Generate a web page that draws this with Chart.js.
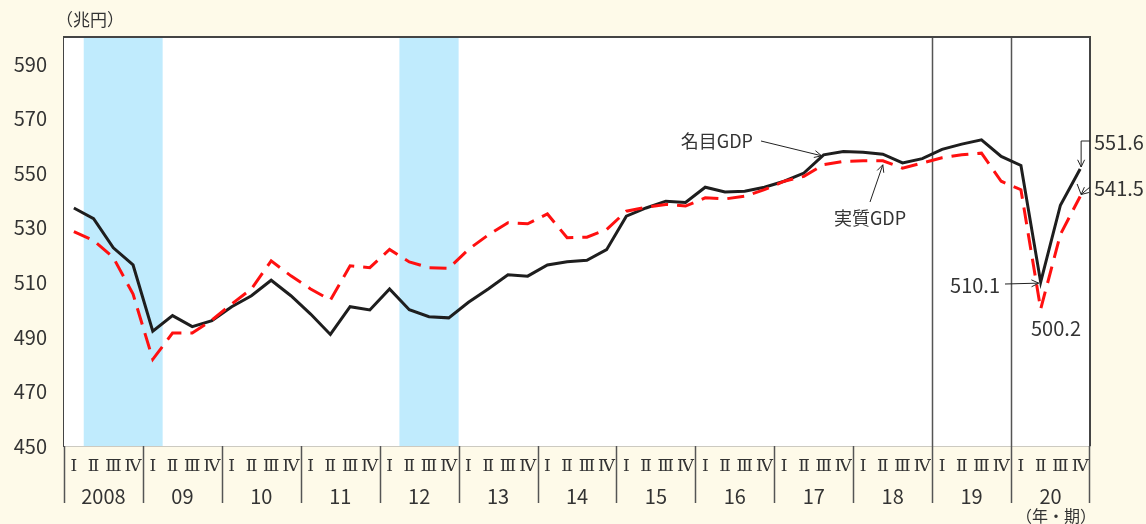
<!DOCTYPE html>
<html>
<head>
<meta charset="utf-8">
<script src="https://cdn.jsdelivr.net/npm/chart.js@4"></script>
<style>
  html, body { margin: 0; padding: 0; background: #fefae9; }
  #wrap { width: 1146px; height: 524px; }
</style>
</head>
<body>
<div id="wrap"><canvas id="c" width="1146" height="524"></canvas></div>
<script>
// quarters 2008 I .. 2020 IV
const years = ['2008', '09', '10', '11', '12', '13', '14', '15', '16', '17', '18', '19', '20'];
const quarterNames = ['Ⅰ', 'Ⅱ', 'Ⅲ', 'Ⅳ'];
const quarters = years.flatMap(() => quarterNames);
const yTicks = [450, 470, 490, 510, 530, 550, 570, 590];

// 名目GDP (兆円)
const nominal = [
  537.3, 533.4, 522.7, 516.4, 492.1, 497.8, 493.8, 496.0,
  501.1, 505.1, 510.8, 505.1, 498.4, 490.9, 501.1, 499.9,
  507.6, 500.0, 497.4, 497.0, 502.7, 507.6, 512.8, 512.3,
  516.4, 517.6, 518.1, 522.0, 534.3, 537.3, 539.8, 539.3,
  544.9, 543.2, 543.4, 544.9, 547.1, 550.1, 556.8, 558.0,
  557.7, 557.0, 553.8, 555.4, 558.8, 560.7, 562.3, 556.2,
  552.9, 510.1, 538.3, 551.6
];
// 実質GDP (兆円)
const real = [
  528.6, 525.4, 519.1, 505.7, 481.8, 491.4, 491.4, 496.2,
  502.1, 507.6, 517.9, 512.4, 507.6, 503.5, 516.1, 515.4,
  522.1, 517.5, 515.4, 515.2, 522.1, 527.4, 531.9, 531.5,
  535.1, 526.4, 526.6, 529.4, 536.1, 537.6, 538.6, 538.0,
  541.0, 540.6, 541.6, 544.0, 547.1, 548.9, 553.2, 554.4,
  554.6, 554.6, 551.9, 553.8, 555.7, 556.8, 557.4, 547.1,
  544.0, 500.2, 527.6, 541.5
];
// shaded periods (first and last quarter index)
const shaded = [[1, 4], [17, 19]];
// vertical reference lines at start of these quarters
const markerLines = [44, 48];

const FONT = '"Noto Sans CJK JP", "Noto Sans", sans-serif';
const TXT = '#333';

function arrow(ctx, x1, y1, x2, y2) {
  const a = Math.atan2(y2 - y1, x2 - x1);
  const h = 8;
  ctx.beginPath();
  ctx.moveTo(x1, y1);
  ctx.lineTo(x2, y2);
  ctx.moveTo(x2 - h * Math.cos(a - 0.45), y2 - h * Math.sin(a - 0.45));
  ctx.lineTo(x2, y2);
  ctx.lineTo(x2 - h * Math.cos(a + 0.45), y2 - h * Math.sin(a + 0.45));
  ctx.stroke();
}

const backdrop = {
  id: 'backdrop',
  beforeDatasetsDraw(chart) {
    const { ctx, chartArea: ca, scales: { x } } = chart;
    const half = (x.getPixelForValue(1) - x.getPixelForValue(0)) / 2;
    ctx.save();
    ctx.fillStyle = '#ffffff';
    ctx.fillRect(ca.left, ca.top, ca.right - ca.left, ca.bottom - ca.top);
    ctx.fillStyle = '#c0ebfd';
    shaded.forEach(([a, b]) => {
      const x1 = x.getPixelForValue(a) - half;
      const x2 = x.getPixelForValue(b) + half;
      ctx.fillRect(x1, ca.top, x2 - x1, ca.bottom - ca.top);
    });
    ctx.strokeStyle = '#555';
    ctx.lineWidth = 1.5;
    markerLines.forEach(i => {
      const px = Math.round(x.getPixelForValue(i) - half) + 0.5;
      ctx.beginPath();
      ctx.moveTo(px, ca.top);
      ctx.lineTo(px, ca.bottom);
      ctx.stroke();
    });
    ctx.restore();
  },
  afterDraw(chart) {
    const { ctx, chartArea: ca, scales: { x, y } } = chart;
    const half = (x.getPixelForValue(1) - x.getPixelForValue(0)) / 2;
    ctx.save();
    // frame top / right
    ctx.strokeStyle = '#444';
    ctx.lineWidth = 2;
    ctx.beginPath();
    ctx.moveTo(ca.left, ca.top);
    ctx.lineTo(ca.right, ca.top);
    ctx.lineTo(ca.right, ca.bottom);
    ctx.stroke();

    // year separators and labels
    ctx.strokeStyle = '#555';
    ctx.lineWidth = 1.5;
    ctx.fillStyle = TXT;
    ctx.font = '20px ' + FONT;
    ctx.textAlign = 'center';
    ctx.textBaseline = 'middle';
    years.forEach((yr, k) => {
      const x1 = x.getPixelForValue(k * 4) - half;
      const x2 = x.getPixelForValue(k * 4 + 3) + half;
      ctx.beginPath();
      ctx.moveTo(Math.round(x1) + 0.5, ca.bottom);
      ctx.lineTo(Math.round(x1) + 0.5, ca.bottom + 57);
      ctx.stroke();
      if (k === years.length - 1) {
        ctx.beginPath();
        ctx.moveTo(Math.round(x2) - 0.5, ca.bottom);
        ctx.lineTo(Math.round(x2) - 0.5, ca.bottom + 57);
        ctx.stroke();
      }
      ctx.fillText(yr, (x1 + x2) / 2, ca.bottom + 50);
    });

    ctx.font = '17px ' + FONT;
    ctx.textAlign = 'left';
    ctx.fillText('（兆円）', ca.left - 8, 20);
    ctx.font = '16px ' + FONT;
    ctx.textAlign = 'right';
    ctx.fillText('（年・期）', ca.right + 6, 516);

    // annotations
    ctx.font = '18px ' + FONT;
    ctx.strokeStyle = '#222';
    ctx.lineWidth = 1;
    const px = i => x.getPixelForValue(i);
    const py = v => y.getPixelForValue(v);

    ctx.textAlign = 'right';
    ctx.fillText('名目GDP', 753, 141);
    arrow(ctx, 761, 141, px(38) - 2, py(nominal[38]) + 1);

    ctx.textAlign = 'center';
    ctx.fillText('実質GDP', 870, 218);
    arrow(ctx, 870, 202, px(41), py(real[41]) + 4);

    ctx.font = '20px ' + FONT;
    ctx.textAlign = 'right';
    ctx.fillText(nominal[49].toFixed(1), 1000, 285);
    arrow(ctx, 1005, 284, px(49) - 2, py(nominal[49]) + 1);

    ctx.textAlign = 'center';
    ctx.fillText(real[49].toFixed(1), 1056, 328);

    const ex = px(51);
    ctx.textAlign = 'left';
    ctx.fillText(nominal[51].toFixed(1), 1094, 142);
    ctx.beginPath();
    ctx.moveTo(1090, 141);
    ctx.lineTo(ex + 1, 141);
    ctx.stroke();
    arrow(ctx, ex + 1, 141, ex + 1, py(nominal[51]) - 2);

    ctx.fillText(real[51].toFixed(1), 1094, 188);
    arrow(ctx, 1090, 187, ex + 1, py(real[51]) - 2);
    ctx.beginPath();
    ctx.moveTo(ex - 3, 184);
    ctx.lineTo(ex + 1, py(real[51]) - 2);
    ctx.stroke();
    ctx.restore();
  }
};

new Chart(document.getElementById('c'), {
  type: 'line',
  data: {
    labels: quarters,
    datasets: [
      {
        label: '実質GDP',
        data: real,
        borderColor: '#ff1010',
        borderWidth: 3,
        borderDash: [17, 9],
        pointRadius: 0,
        tension: 0
      },
      {
        label: '名目GDP',
        data: nominal,
        borderColor: '#1e1e1e',
        borderWidth: 3,
        pointRadius: 0,
        tension: 0
      }
    ]
  },
  options: {
    responsive: false,
    animation: false,
    layout: { padding: { top: 37, right: 56, left: 0, bottom: 0 } },
    plugins: {
      legend: { display: false },
      tooltip: { enabled: false }
    },
    scales: {
      x: {
        offset: true,
        grid: { display: false, drawTicks: false },
        border: { display: true, color: '#9a9a9a', width: 1.5 },
        ticks: {
          autoSkip: false,
          maxRotation: 0,
          padding: 10,
          color: TXT,
          font: { family: '"DejaVu Serif", ' + FONT, size: 17 }
        },
        afterFit(s) { s.height = 78; }
      },
      y: {
        min: 450,
        max: 600,
        grid: { display: false, drawTicks: false },
        border: { display: true, color: '#444', width: 2 },
        afterBuildTicks(s) { s.ticks = yTicks.map(v => ({ value: v })); },
        ticks: {
          padding: 17,
          color: TXT,
          font: { family: FONT, size: 20 }
        },
        afterFit(s) { s.width = 64; }
      }
    }
  },
  plugins: [backdrop]
});
</script>
</body>
</html>
